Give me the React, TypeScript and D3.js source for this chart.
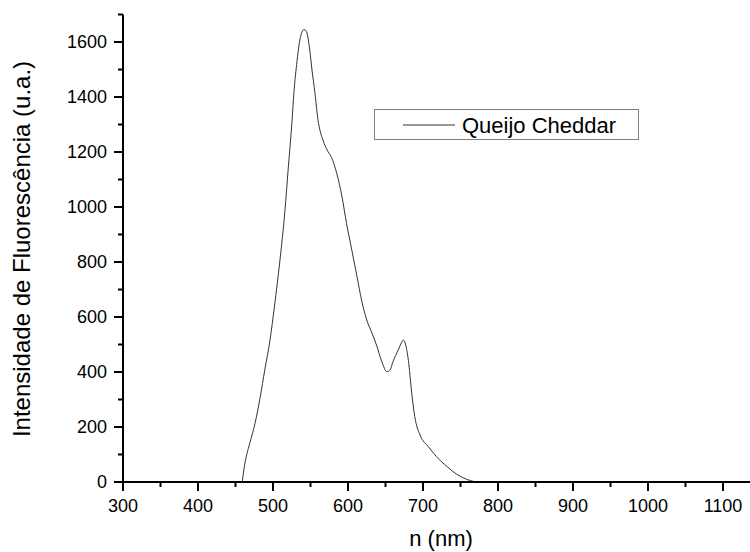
import React from "react";
import * as d3 from "d3";

const wavelength = [459, 462, 465, 469, 476, 483, 489, 496, 502, 509, 516, 520, 525, 528, 532, 535, 538, 541, 543, 546, 549, 552, 556, 560, 563, 567, 572, 578, 585, 592, 598, 605, 612, 618, 625, 632, 638, 645, 652, 656, 660, 667, 674, 677, 681, 685, 689, 696, 707, 718, 732, 745, 758, 769];
const intensity = [0, 60, 100, 141, 213, 310, 407, 516, 640, 800, 990, 1130, 1300, 1420, 1530, 1595, 1631, 1645, 1644, 1625, 1571, 1498, 1413, 1316, 1275, 1240, 1208, 1180, 1122, 1037, 941, 844, 747, 662, 589, 541, 498, 438, 401, 407, 438, 480, 516, 498, 431, 322, 238, 171, 129, 92, 56, 28, 10, 1];

const xTicks = [300, 400, 500, 600, 700, 800, 900, 1000, 1100];
const xMinorTicks = [350, 450, 550, 650, 750, 850, 950, 1050, 1150];
const yTicks = [0, 200, 400, 600, 800, 1000, 1200, 1400, 1600];
const yMinorTicks = [100, 300, 500, 700, 900, 1100, 1300, 1500, 1700];
const seriesName = "Queijo Cheddar";
const xTitle = "n (nm)";
const yTitle = "Intensidade de Fluorescência (u.a.)";

const W = 750;
const H = 552;
const FONT = "'Liberation Sans', Arial, sans-serif";

export default function App() {
  const x = d3.scaleLinear().domain([300, 1100]).range([123, 723]);
  const y = d3.scaleLinear().domain([0, 1600]).range([482, 42]);
  const x0 = x(300);
  const y0 = y(0);
  const yTop = y(1700);
  const pts = wavelength.map((w, i) => [w, intensity[i]] as [number, number]);
  const line = d3
    .line<[number, number]>()
    .x((d) => x(d[0]))
    .y((d) => y(d[1]))
    .curve(d3.curveMonotoneX);

  return (
    <svg
      width={W}
      height={H}
      style={{ position: "absolute", left: 0, top: 0, background: "#fff" }}
      fontFamily={FONT}
    >
      <rect x={0} y={0} width={W} height={H} fill="#fff" />
      {/* data */}
      <path d={line(pts) || ""} fill="none" stroke="#333" strokeWidth={1} />

      {/* axes */}
      <line x1={x0} x2={W + 5} y1={y0} y2={y0} stroke="#000" strokeWidth={2} />
      <line x1={x0} x2={x0} y1={yTop} y2={y0} stroke="#000" strokeWidth={2} />

      {xTicks.map((t) => (
        <g key={"xt" + t}>
          <line x1={x(t)} x2={x(t)} y1={y0} y2={y0 + 9} stroke="#000" strokeWidth={2} />
          <text x={x(t)} y={512} fontSize={18} textAnchor="middle" fill="#000">
            {t}
          </text>
        </g>
      ))}
      {xMinorTicks.map((t) => (
        <line key={"xm" + t} x1={x(t)} x2={x(t)} y1={y0} y2={y0 + 5} stroke="#000" strokeWidth={2} />
      ))}
      {yTicks.map((t) => (
        <g key={"yt" + t}>
          <line x1={x0 - 9} x2={x0} y1={y(t)} y2={y(t)} stroke="#000" strokeWidth={2} />
          <text x={107} y={y(t)} dy="0.36em" fontSize={18} textAnchor="end" fill="#000">
            {t}
          </text>
        </g>
      ))}
      {yMinorTicks.map((t) => (
        <line key={"ym" + t} x1={x0 - 5} x2={x0} y1={y(t)} y2={y(t)} stroke="#000" strokeWidth={2} />
      ))}

      {/* titles */}
      <text x={441} y={546} fontSize={22} textAnchor="middle" fill="#000">
        {xTitle}
      </text>
      <text
        transform={`translate(30, 249) rotate(-90)`}
        fontSize={24}
        textAnchor="middle"
        fill="#000"
      >
        {yTitle}
      </text>

      {/* legend */}
      <rect x={374.5} y={109.5} width={264} height={30} fill="#fff" stroke="#808080" strokeWidth={1} />
      <line x1={403} x2={455} y1={125} y2={125} stroke="#333" strokeWidth={1} />
      <text x={462} y={133} fontSize={22} fill="#000">
        {seriesName}
      </text>
    </svg>
  );
}
